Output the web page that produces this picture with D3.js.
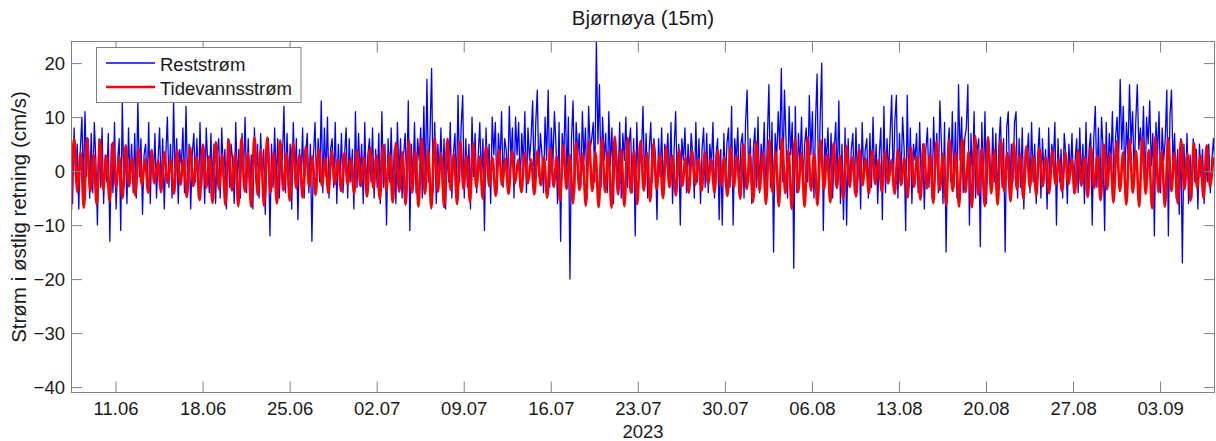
<!DOCTYPE html>
<html><head><meta charset="utf-8">
<script src="https://cdn.jsdelivr.net/npm/d3@7"></script>
<style>
body{margin:0;background:#fff}
text{font-family:"Liberation Sans",Arial,Helvetica,sans-serif;fill:#1a1a1a}
</style>
</head><body>
<svg id="chart" width="1216" height="441"></svg>
<script>
// ---------- data ----------
const chartTitle = "Bjørnøya (15m)";
const yAxisLabel = "Strøm i østlig retning (cm/s)";
const xAxisLabel = "2023";
const seriesNames = ["Reststrøm", "Tidevannsstrøm"];
const startTime = "2023-06-07T10:00";
const endTime = "2023-09-07T10:00";
const restStepHours = 3;      // sampling step of the residual series
const tideStepHours = 6.21;   // tidal extrema (half M2 period)
const xTickDates = ["2023-06-11","2023-06-18","2023-06-25","2023-07-02","2023-07-09","2023-07-16",
  "2023-07-23","2023-07-30","2023-08-06","2023-08-13","2023-08-20","2023-08-27","2023-09-03"];
const yTicks = [-40, -30, -20, -10, 0, 10, 20];
const yDomain = [-41, 24];

// Reststrøm (cm/s), 3-hourly values
const reststrom = [
 3,-6,8,-2,5,-7,4,10,   -3,11,-1,6,-5,7,-4,9,   2,-10,6,-3,8,-6,3,-2,   7,-13,5,-4,9,-7,2,6,
 -11,13,-3,4,-6,8,-2,5, -4,7,-5,13,-1,6,-8,3,   5,-3,9,-6,4,-2,7,-5,    2,8,-4,6,-7,3,10,-3,
 5,-5,13,-2,6,-6,4,1,   8,-4,12,-3,5,-7,3,7,    -2,6,-5,9,-3,4,-6,8,    1,-4,7,-2,5,-6,3,6,
 -5,8,-1,4,-7,6,-3,5,   2,-6,9,-2,4,-5,7,-1,    10,-4,6,-3,3,-7,8,-2,   5,-5,7,-1,4,-8,3,6,
 -12,5,-3,8,-2,6,-5,4,  2,12,-4,7,-3,5,-7,9,    -1,6,-9,4,-2,8,-5,3,    7,-4,5,-13,3,9,-3,6,
 -2,13,-4,8,-1,10,-5,4, 6,-3,9,-6,5,-2,7,-4,    3,8,-5,6,-2,4,-7,11,    -3,7,-1,5,-6,9,-4,3,
 6,-2,8,-5,4,-3,7,-6,   11,-3,5,-10,6,-2,8,-4,  4,-6,9,-1,6,-5,3,7,     -3,13,-11,5,-2,9,-4,6,
 2,8,-5,12,-3,17,-2,7,  19,-4,9,-6,5,-1,8,-3,   6,-7,4,-2,9,-5,3,7,     -4,14,-2,8,14,-5,6,-3,
 5,-7,10,-1,7,-4,3,9,   -2,6,-11,8,-1,5,-6,10,  3,9,-4,7,1,11,-3,6,     4,-2,12,2,8,-5,10,3,
 9,-3,7,1,11,-4,8,2,    6,13,-2,9,15,-1,7,3,    -4,10,2,15,-3,8,1,11,   5,-6,9,-13,7,2,14,-2,
 10,-20,6,13,-4,9,3,7,  -3,11,2,8,-5,12,4,6,    9,-2,24,5,16,-3,10,2,   7,-4,11,1,8,-6,6,3,
 -2,9,-5,7,2,10,-3,5,   8,-4,6,-12,9,-1,5,3,    12,-3,7,-5,4,9,-2,6,    3,-9,6,-1,8,-4,5,2,
 7,-3,9,-6,4,11,-2,5,   -10,6,2,8,-4,5,-1,7,    3,-5,9,-2,6,-6,4,8,     -3,7,-4,5,1,9,-5,3,
 6,-9,4,-10,7,-2,5,8,   -3,12,-10,6,2,8,-4,5,   7,-5,9,15,-2,6,-6,4,    8,-3,10,-4,5,1,9,-5,
 6,16,-3,9,-15,7,2,11,  4,19,-2,15,6,-5,12,3,   9,-18,12,-4,7,1,10,-3,  5,8,-2,14,3,11,-5,9,
 18,-4,10,20,-11,6,2,8, -3,7,-5,4,9,-2,13,-6,   5,-9,8,-10,6,-3,4,7,    -4,8,-2,5,-7,9,-1,4,
 6,-5,7,-3,10,-2,5,-6,  3,8,-9,12,-4,6,-1,7,    14,-3,9,14,-5,7,-2,10,  4,-11,14,-3,8,-6,5,2,
 7,-4,9,-2,5,-7,4,8,    -3,6,-5,10,-1,7,-4,13,  5,-6,9,-15,4,8,-2,11,   -3,9,-5,16,2,10,-4,6,
 8,16,-10,7,-2,11,-5,4, 6,-14,9,-3,11,-6,5,3,   -4,8,-2,7,-6,5,10,-3,   6,-15,8,11,-4,5,-2,9,
 11,-5,6,-3,8,-7,4,2,   7,-4,9,-2,5,-6,3,8,     -5,6,-1,4,-7,8,-3,5,    2,9,-10,6,-2,4,-5,7,
 3,-6,5,-1,7,-4,2,6,    -4,8,-2,5,-6,9,-3,4,    7,-10,6,12,-3,8,-5,10,  4,-11,9,-2,7,1,11,-4,
 6,10,2,17,4,12,-2,9,   3,16,5,11,-1,9,16,4,    8,2,12,-3,10,5,13,1,    7,-12,9,3,11,-4,8,2,
 6,15,-12,10,15,1,7,-5, 4,-8,6,-17,5,-3,7,-6,   3,-5,6,-2,4,-7,5,-1,    4,-6,3,-2,5,-4,2,6,
 1
];

// Tidevannsstrøm (cm/s): successive extrema (low, high, ...)
const tidevannsstrom = [
 -7.2,6.0,-3.9,3.4,-6.8,6.1,-3.7,3.1,-6.2,5.8,-3.4,2.8,-5.6,5.3,-3.0,2.7,-5.0,4.8,-2.8,2.4,-4.5,4.2,-2.5,2.2,-4.0,3.8,-2.3,2.0,
 -3.8,3.5,-2.2,2.1,-4.2,3.9,-2.5,2.3,-4.8,4.4,-2.8,2.6,-5.4,4.9,-3.1,2.8,-5.9,5.4,-3.4,3.0,-6.3,5.8,-3.6,3.2,-6.5,6.1,-3.8,3.4,
 -6.6,6.3,-4.4,4.0,-6.4,6.2,-4.0,3.5,-6.0,5.7,-3.6,3.3,-5.5,5.2,-3.2,3.0,-4.9,4.6,-2.9,2.7,-4.4,4.1,-2.7,2.4,-4.1,3.7,-2.4,2.2,
 -3.7,3.4,-2.5,2.3,-4.1,3.8,-2.8,2.6,-4.7,4.3,-3.1,2.9,-5.2,4.8,-3.5,3.2,-5.8,5.3,-3.8,3.5,-6.2,5.7,-4.0,3.7,-6.6,6.0,-4.2,3.9,
 -6.9,6.2,-3.8,3.3,-6.7,6.0,-3.5,3.2,-6.1,5.6,-3.3,2.9,-5.7,5.1,-3.0,2.7,-5.1,4.7,-2.8,2.5,-4.6,4.0,-2.6,2.3,-4.2,3.7,-2.3,2.1,
 -3.9,3.4,-2.3,2.2,-4.3,3.8,-2.6,2.5,-4.9,4.3,-2.9,2.7,-5.5,4.8,-3.3,3.0,-6.0,5.3,-3.5,3.2,-6.4,5.7,-3.7,3.5,-6.7,6.1,-3.9,3.6,
 -6.8,6.4,-4.3,4.0,-6.5,6.1,-4.0,3.7,-6.1,5.6,-3.6,3.4,-5.6,5.1,-3.3,3.1,-5.0,4.5,-3.0,2.8,-4.5,4.0,-2.7,2.5,-4.0,3.8,-2.5,2.3,
 -3.6,3.5,-2.4,2.2,-4.0,3.9,-2.7,2.5,-4.6,4.4,-3.0,2.8,-5.1,4.9,-3.3,3.1,-5.7,5.4,-3.6,3.4,-6.1,5.8,-3.9,3.6,-6.5,6.1,-4.1,3.8,
 -7.0,6.1,-3.9,3.4,-6.6,6.2,-3.6,3.2,-6.3,5.7,-3.4,3.0,-5.8,5.2,-3.1,2.8,-5.2,4.7,-2.9,2.6,-4.7,4.1,-2.6,2.3,-4.1,3.8,-2.4,2.1,
 -3.8,3.6,-2.3,2.1,-4.2,4.0,-2.6,2.4,-4.9,4.4,-2.9,2.7,-5.3,5.0,-3.2,3.0,-5.9,5.5,-3.5,3.2,-6.3,5.9,-3.7,3.4,-6.6,6.2,-3.9,3.6,
 -6.7,6.5,-4.4,4.1,-6.5,6.3,-4.1,3.8,-6.2,5.8,-3.7,3.4,-5.6,5.3,-3.4,3.1,-5.1,4.6,-3.0,2.8,-4.5,4.2,-2.8,2.6,-4.1,3.9,-2.5,2.3,
 -3.7,3.5,-2.4,2.3,-4.1,3.9,-2.7,2.6,-4.8,4.5,-3.1,2.9,-5.4,4.9,-3.4,3.2,-5.8,5.5,-3.7,3.5,-6.2,5.9,-4.0,3.7,-6.6,6.2,-4.2,3.9,
 -6.9,6.4,-3.9,3.6,-6.6,6.1,-3.7,3.4,-6.0,5.8,-3.4,3.2,-5.5,5.2,-3.1,2.9,-5.0,4.8,-2.9,2.6
];

// ---------- layout ----------
const W = 1216, H = 441;
const plot = {left: 71, right: 1215, top: 41.5, bottom: 392.5};
const axisColor = "#808080";
const tickFont = 18.5, labelFont = 20.5;

const svg = d3.select("#chart");
const t0 = new Date(startTime), t1 = new Date(endTime);
const x = d3.scaleTime().domain([t0, t1]).range([plot.left, plot.right]);
const y = d3.scaleLinear().domain(yDomain).range([plot.bottom, plot.top]);

const HOUR = 3600 * 1000;
const restData = reststrom.map((v, i) => ({t: new Date(+t0 + i * restStepHours * HOUR), v}));
const tideData = tidevannsstrom.map((v, i) => ({t: new Date(+t0 + i * tideStepHours * HOUR), v}));

svg.append("defs").append("clipPath").attr("id", "clip")
  .append("rect").attr("x", plot.left).attr("y", plot.top)
  .attr("width", plot.right - plot.left).attr("height", plot.bottom - plot.top);

const g = svg.append("g").attr("clip-path", "url(#clip)");
g.append("path").datum(restData)
  .attr("fill", "none").attr("stroke", "#0000ff").attr("stroke-width", 1.3)
  .attr("stroke-linejoin", "round")
  .attr("d", d3.line().x(d => x(d.t)).y(d => y(d.v)));
g.append("path").datum(tideData)
  .attr("fill", "none").attr("stroke", "#ff0000").attr("stroke-width", 2.6)
  .attr("stroke-linejoin", "round")
  .attr("d", d3.line().curve(d3.curveMonotoneX).x(d => x(d.t)).y(d => y(d.v)));

// axes
const xTicks = xTickDates.map(s => new Date(s + "T00:00"));
const fmt = d3.timeFormat("%d.%m");
function styleAxis(sel, showText) {
  sel.select(".domain").remove();
  sel.selectAll(".tick line").attr("stroke", axisColor).attr("stroke-width", 1);
  sel.selectAll(".tick text").style("font-size", tickFont + "px").attr("fill", "#1a1a1a");
  if (!showText) sel.selectAll(".tick text").remove();
}
svg.append("g").attr("transform", `translate(0,${plot.bottom})`)
  .call(d3.axisBottom(x).tickValues(xTicks).tickFormat(fmt).tickSizeInner(-11).tickSizeOuter(0).tickPadding(9))
  .call(s => styleAxis(s, true));
svg.append("g").attr("transform", `translate(0,${plot.top})`)
  .call(d3.axisTop(x).tickValues(xTicks).tickSizeInner(-11).tickSizeOuter(0))
  .call(s => styleAxis(s, false));
svg.append("g").attr("transform", `translate(${plot.left},0)`)
  .call(d3.axisLeft(y).tickValues(yTicks).tickSizeInner(-11).tickSizeOuter(0).tickPadding(6))
  .call(s => styleAxis(s, true));
svg.append("g").attr("transform", `translate(${plot.right},0)`)
  .call(d3.axisRight(y).tickValues(yTicks).tickSizeInner(-11).tickSizeOuter(0))
  .call(s => styleAxis(s, false));

svg.append("rect").attr("x", plot.left + 0.5).attr("y", plot.top)
  .attr("width", plot.right - plot.left - 1).attr("height", plot.bottom - plot.top)
  .attr("fill", "none").attr("stroke", axisColor).attr("stroke-width", 1);

// titles
svg.append("text").attr("x", (plot.left + plot.right) / 2).attr("y", 25)
  .attr("text-anchor", "middle").style("font-size", labelFont + "px").text(chartTitle);
svg.append("text").attr("x", (plot.left + plot.right) / 2).attr("y", 438)
  .attr("text-anchor", "middle").style("font-size", tickFont + "px").text(xAxisLabel);
svg.append("text").attr("transform", `translate(26,${(plot.top + plot.bottom) / 2}) rotate(-90)`)
  .attr("text-anchor", "middle").style("font-size", labelFont + "px").text(yAxisLabel);

// legend
const lg = svg.append("g");
lg.append("rect").attr("x", 96.5).attr("y", 47.5).attr("width", 204.5).attr("height", 55)
  .attr("fill", "#fff").attr("stroke", axisColor).attr("stroke-width", 1);
const legendItems = [
  {name: seriesNames[0], color: "#0000ff", w: 1.3, y: 63},
  {name: seriesNames[1], color: "#ff0000", w: 2.6, y: 87}
];
legendItems.forEach(it => {
  lg.append("line").attr("x1", 106).attr("x2", 155).attr("y1", it.y).attr("y2", it.y)
    .attr("stroke", it.color).attr("stroke-width", it.w);
  lg.append("text").attr("x", 160).attr("y", it.y + 7.5).style("font-size", tickFont + "px").text(it.name);
});
</script>
</body></html>
